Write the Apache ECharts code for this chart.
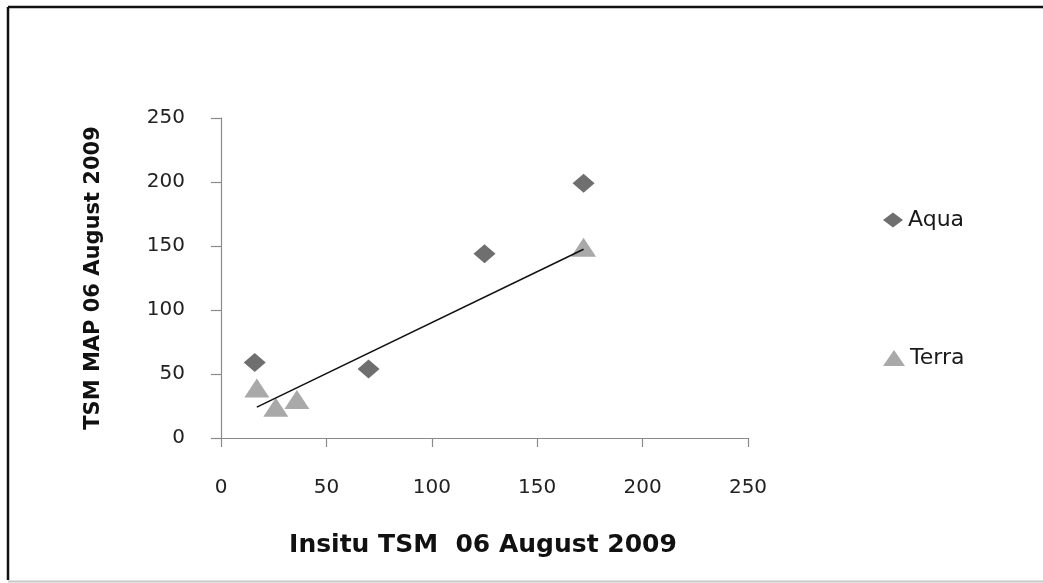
<!DOCTYPE html>
<html>
<head>
<meta charset="utf-8">
<script src="https://cdn.jsdelivr.net/npm/echarts@6/dist/echarts.min.js"></script>
<style>
  html, body { margin: 0; padding: 0; background: #ffffff; }
  #chart { width: 1043px; height: 583px; }
</style>
</head>
<body>
<div id="chart"></div>
<script>
// In-situ TSM vs. TSM map values, 06 August 2009
const aquaX = [16, 70, 125, 172];
const aquaY = [59, 54, 144, 199];
const terraX = [17, 26, 36, 172];
const terraY = [39, 24, 30, 149];
const axisTicks = [0, 50, 100, 150, 200, 250];

const xTitle = 'Insitu TSM  06 August 2009';
const yTitle = 'TSM MAP 06 August 2009';

// Least-squares linear trend through the Terra points
function linearFit(xs, ys) {
  const n = xs.length;
  const mx = xs.reduce((a, b) => a + b, 0) / n;
  const my = ys.reduce((a, b) => a + b, 0) / n;
  let sxy = 0, sxx = 0;
  for (let i = 0; i < n; i++) {
    sxy += (xs[i] - mx) * (ys[i] - my);
    sxx += (xs[i] - mx) * (xs[i] - mx);
  }
  const slope = sxy / sxx;
  return { slope, intercept: my - slope * mx };
}
const fit = linearFit(terraX, terraY);
const xMin = Math.min(...terraX), xMax = Math.max(...terraX);
const trend = [
  [xMin, fit.intercept + fit.slope * xMin],
  [xMax, fit.intercept + fit.slope * xMax]
];

const pair = (xs, ys) => xs.map((x, i) => [x, ys[i]]);

const FONT = 'DejaVu Sans';
const axisCommon = {
  type: 'value',
  min: axisTicks[0],
  max: axisTicks[axisTicks.length - 1],
  interval: axisTicks[1] - axisTicks[0],
  splitLine: { show: false },
  axisLine: { show: true, lineStyle: { color: '#8a8a8a', width: 1.2 } },
  axisTick: { show: true, inside: false, lineStyle: { color: '#8a8a8a', width: 1.2 } },
  axisLabel: { color: '#222222', fontFamily: FONT, fontSize: 20 }
};

const chart = echarts.init(document.getElementById('chart'), null, { renderer: 'canvas' });
chart.setOption({
  backgroundColor: '#ffffff',
  animation: false,
  grid: { left: 221, right: 295, top: 118, bottom: 145, containLabel: false },
  xAxis: Object.assign({}, axisCommon, {
    axisTick: Object.assign({}, axisCommon.axisTick, { length: 9 }),
    axisLabel: Object.assign({}, axisCommon.axisLabel, { margin: 40 })
  }),
  yAxis: Object.assign({}, axisCommon, {
    axisTick: Object.assign({}, axisCommon.axisTick, { length: 10 }),
    axisLabel: Object.assign({}, axisCommon.axisLabel, { margin: 36 })
  }),
  legend: [
    {
      data: ['Aqua'],
      left: 878, top: 204,
      itemWidth: 20, itemHeight: 15, itemGap: 8,
      textStyle: { fontFamily: FONT, fontSize: 22, color: '#1a1a1a' }
    },
    {
      data: ['Terra'],
      left: 878, top: 342,
      itemWidth: 22, itemHeight: 16, itemGap: 7,
      textStyle: { fontFamily: FONT, fontSize: 22, color: '#1a1a1a' }
    }
  ],
  series: [
    {
      name: 'Aqua',
      type: 'scatter',
      symbol: 'diamond',
      symbolSize: [22, 19],
      itemStyle: { color: '#6f6f6f', opacity: 1 },
      data: pair(aquaX, aquaY),
      z: 3
    },
    {
      name: 'Terra',
      type: 'scatter',
      symbol: 'triangle',
      symbolSize: [25, 19],
      itemStyle: { color: '#a9a9a9', opacity: 1 },
      data: pair(terraX, terraY),
      z: 3
    },
    {
      name: 'Linear (Terra)',
      type: 'line',
      data: trend,
      symbol: 'none',
      lineStyle: { color: '#111111', width: 1.5 },
      silent: true,
      z: 4
    }
  ],
  graphic: [
    // chart frame
    { type: 'line', shape: { x1: 8, y1: 7, x2: 1043, y2: 7 }, style: { stroke: '#111', lineWidth: 2.5 } },
    { type: 'line', shape: { x1: 8, y1: 7, x2: 8, y2: 580 }, style: { stroke: '#111', lineWidth: 2.5 } },
    { type: 'line', shape: { x1: 8, y1: 581.5, x2: 1043, y2: 581.5 }, style: { stroke: '#c8c8c8', lineWidth: 2 } },
    // axis titles
    {
      type: 'text',
      x: 483, y: 545,
      style: { text: xTitle, x: 0, y: 0, align: 'center', verticalAlign: 'middle',
               font: 'bold 25px "DejaVu Sans"', fill: '#111' }
    },
    {
      type: 'text',
      x: 94, y: 278, rotation: Math.PI / 2,
      style: { text: yTitle, x: 0, y: 0, align: 'center', verticalAlign: 'middle',
               font: 'bold 21px "DejaVu Sans"', fill: '#111' }
    }
  ]
});
</script>
</body>
</html>
